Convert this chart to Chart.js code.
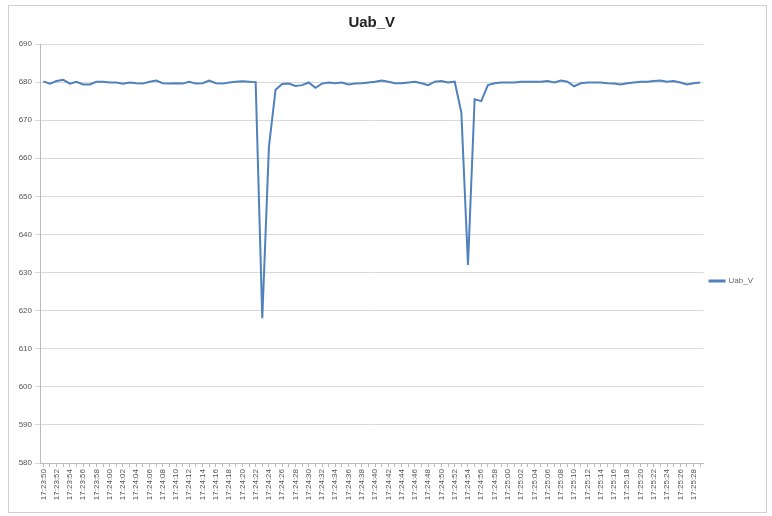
<!DOCTYPE html>
<html>
<head>
<meta charset="utf-8">
<script src="https://cdn.jsdelivr.net/npm/chart.js@4/dist/chart.umd.min.js"></script>
<style>
  html, body { margin: 0; padding: 0; background: #fff; }
  #wrap { position: relative; width: 772px; height: 516px; }
  #frame { position: absolute; left: 8px; top: 5px; width: 759px; height: 508px; border: 1px solid #d0d0d0; box-sizing: border-box; }
  canvas { position: absolute; left: 0; top: 0; }
</style>
</head>
<body>
<div id="wrap">
  <div id="frame"></div>
  <canvas id="chart" width="772" height="516"></canvas>
</div>
<script>
// one reading per second, 17:23:50 .. 17:25:29
const times = [
  '17:23:50','17:23:51','17:23:52','17:23:53','17:23:54','17:23:55','17:23:56','17:23:57','17:23:58','17:23:59',
  '17:24:00','17:24:01','17:24:02','17:24:03','17:24:04','17:24:05','17:24:06','17:24:07','17:24:08','17:24:09',
  '17:24:10','17:24:11','17:24:12','17:24:13','17:24:14','17:24:15','17:24:16','17:24:17','17:24:18','17:24:19',
  '17:24:20','17:24:21','17:24:22','17:24:23','17:24:24','17:24:25','17:24:26','17:24:27','17:24:28','17:24:29',
  '17:24:30','17:24:31','17:24:32','17:24:33','17:24:34','17:24:35','17:24:36','17:24:37','17:24:38','17:24:39',
  '17:24:40','17:24:41','17:24:42','17:24:43','17:24:44','17:24:45','17:24:46','17:24:47','17:24:48','17:24:49',
  '17:24:50','17:24:51','17:24:52','17:24:53','17:24:54','17:24:55','17:24:56','17:24:57','17:24:58','17:24:59',
  '17:25:00','17:25:01','17:25:02','17:25:03','17:25:04','17:25:05','17:25:06','17:25:07','17:25:08','17:25:09',
  '17:25:10','17:25:11','17:25:12','17:25:13','17:25:14','17:25:15','17:25:16','17:25:17','17:25:18','17:25:19',
  '17:25:20','17:25:21','17:25:22','17:25:23','17:25:24','17:25:25','17:25:26','17:25:27','17:25:28','17:25:29'
];

const uabV = [
  680.2, 679.6, 680.3, 680.6, 679.6, 680.1, 679.4, 679.4, 680.1, 680.1,
  679.9, 679.9, 679.6, 679.9, 679.7, 679.6, 680.1, 680.4, 679.7, 679.6,
  679.7, 679.6, 680.1, 679.6, 679.7, 680.4, 679.7, 679.6, 679.9, 680.1,
  680.2, 680.1, 680.0, 618.0, 663.0, 678.0, 679.5, 679.6, 679.0, 679.2,
  679.9, 678.5, 679.6, 679.9, 679.7, 679.9, 679.4, 679.6, 679.7, 679.9,
  680.1, 680.4, 680.1, 679.7, 679.7, 679.9, 680.1, 679.7, 679.2, 680.1,
  680.3, 679.9, 680.1, 672.0, 632.0, 675.5, 675.0, 679.2, 679.7, 679.9,
  679.9, 679.9, 680.1, 680.1, 680.1, 680.1, 680.3, 679.9, 680.4, 680.1,
  678.9, 679.7, 679.9, 679.9, 679.9, 679.7, 679.6, 679.4, 679.7, 679.9,
  680.1, 680.1, 680.3, 680.4, 680.1, 680.3, 679.9, 679.4, 679.7, 679.9
];

const yMin = 580;
const yMax = 690;
const yStep = 10;

// nudge the legend a little below the middle, like the original sheet
const legendShift = {
  id: 'legendShift',
  afterLayout(chart) {
    if (chart.legend) {
      chart.legend.top += 22;
      chart.legend.bottom += 22;
    }
  }
};

const ctx = document.getElementById('chart').getContext('2d');
new Chart(ctx, {
  type: 'line',
  data: {
    labels: times,
    datasets: [{
      label: 'Uab_V',
      data: uabV,
      borderColor: '#4F81BD',
      backgroundColor: '#4F81BD',
      borderWidth: 2,
      pointRadius: 0,
      fill: false,
      tension: 0
    }]
  },
  options: {
    responsive: false,
    animation: false,
    layout: { padding: { left: 10, right: 9, top: 6, bottom: 4 } },
    plugins: {
      title: {
        display: true,
        text: 'Uab_V',
        fullSize: false,
        color: '#222',
        font: { family: 'Liberation Sans', size: 15, weight: 'bold' },
        padding: { top: 8, bottom: 12 }
      },
      legend: {
        position: 'right',
        labels: {
          boxWidth: 15,
          boxHeight: 1,
          color: '#666',
          font: { family: 'Liberation Sans', size: 8 },
          padding: 6
        }
      },
      tooltip: { enabled: false }
    },
    scales: {
      x: {
        offset: true,
        grid: { display: true, drawOnChartArea: false, drawTicks: true, tickLength: 4, color: '#bbb' },
        border: { color: '#bbb' },
        ticks: {
          autoSkip: false,
          minRotation: 90,
          maxRotation: 90,
          padding: 2,
          color: '#555',
          font: { family: 'Liberation Sans', size: 8 },
          callback: function (value, index) {
            return index % 2 === 0 ? times[index] : '';
          }
        },
        afterFit: function (scale) { scale.height = 49; }
      },
      y: {
        min: yMin,
        max: yMax,
        grid: { color: '#d9d9d9', tickLength: 5 },
        border: { color: '#bbb' },
        ticks: {
          stepSize: yStep,
          padding: 3,
          color: '#555',
          font: { family: 'Liberation Sans', size: 8 }
        },
        afterFit: function (scale) { scale.width = 30; }
      }
    }
  },
  plugins: [legendShift]
});
</script>
</body>
</html>
